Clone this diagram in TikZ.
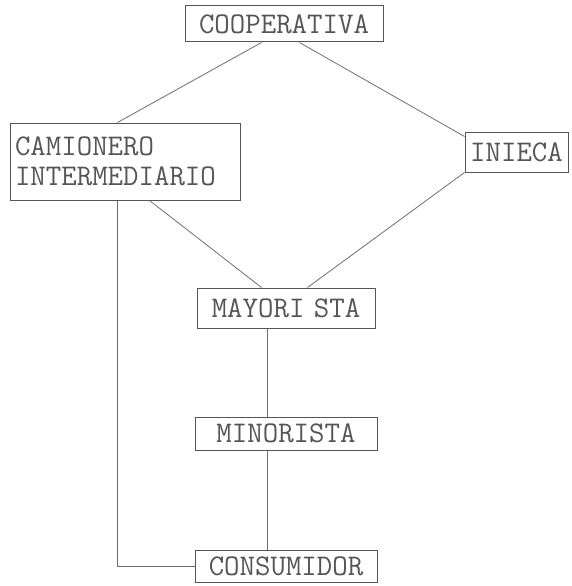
\documentclass[tikz,border=0pt]{standalone}
\usepackage{fontspec}
\usetikzlibrary{calc}
\definecolor{ink}{RGB}{85,85,85}
\definecolor{lineink}{RGB}{110,110,110}
\begin{document}
\begin{tikzpicture}[x=1pt,y=1pt,
  box/.style={draw=ink, line width=1pt, rectangle, inner sep=0pt, text=ink,
    font=\ttfamily\fontsize{30}{30}\selectfont},
  link/.style={draw=lineink, line width=0.8pt}]
\useasboundingbox (0,0) rectangle (571,-586);
\node[box, minimum width=198, minimum height=36] (coop) at (284,-24) {COOPERATIVA};
\node[box, minimum height=77, inner xsep=5pt, text width=220pt, align=left] (cam) at (125,-161.5) {CAMIONERO\\INTERMEDIARIO};
\node[box, minimum width=103, minimum height=40] (ini) at (516.5,-152) {INIECA};
\node[box, minimum width=178, minimum height=40] (may) at (286,-308) {MAYORI\kern-6pt{} STA};
\node[box, minimum width=182, minimum height=33] (min) at (286,-433.5) {MINORISTA};
\node[box, minimum width=182, minimum height=32] (cons) at (286,-566) {CONSUMIDOR};
\draw[link] ($(coop.south west)+(77,0)$) -- ($(cam.north west)+(108,0)$);
\draw[link] ($(coop.south west)+(115,0)$) -- ($(ini.north west)+(0,-5)$);
\draw[link] ($(cam.south west)+(140,0)$) -- ($(may.north west)+(65,0)$);
\draw[link] (ini.south west) -- ($(may.north west)+(111,0)$);
\draw[link] ($(may.south west)+(71,0)$) -- ($(min.north west)+(73,0)$);
\draw[link] ($(min.south west)+(73,0)$) -- ($(cons.north west)+(73,0)$);
\draw[link] ($(cam.south west)+(108,0)$) |- (cons.west);
\end{tikzpicture}
\end{document}
